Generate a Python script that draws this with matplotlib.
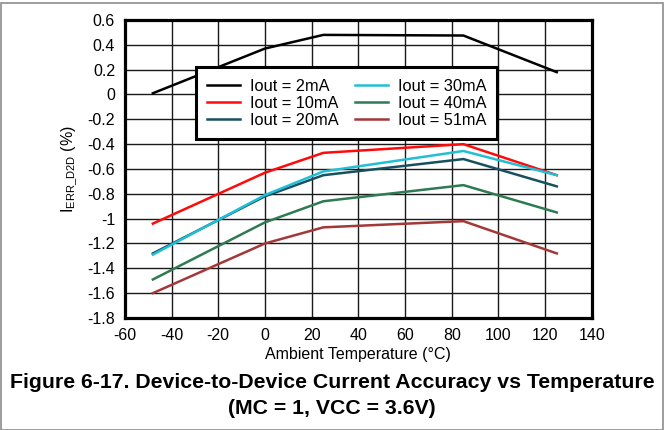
from matplotlib import pyplot as plt
import matplotlib.patches as mpatches

plt.rcParams['font.family'] = ['Liberation Sans', 'DejaVu Sans']
plt.rcParams['axes.unicode_minus'] = False

temps = [-48, 0, 25, 85, 125]
labels = ['Iout = 2mA', 'Iout = 10mA', 'Iout = 20mA',
          'Iout = 30mA', 'Iout = 40mA', 'Iout = 51mA']
err_2ma = [0.01, 0.37, 0.48, 0.475, 0.18]
err_10ma = [-1.04, -0.63, -0.47, -0.40, -0.65]
err_20ma = [-1.28, -0.82, -0.65, -0.52, -0.74]
err_30ma = [-1.29, -0.81, -0.62, -0.455, -0.65]
err_40ma = [-1.49, -1.03, -0.86, -0.73, -0.95]
err_51ma = [-1.60, -1.20, -1.07, -1.02, -1.28]
colors = ['#000000', '#ff0a0a', '#17505f', '#21bfd5', '#2e7a52', '#a33838']

fig = plt.figure(figsize=(6.64, 4.30), dpi=100)
# thin gray frame round the whole figure
fig.patches.append(mpatches.Rectangle((0.002, 0.0), 0.996, 0.993, transform=fig.transFigure,
                                      fill=False, edgecolor='#8c8c8c', linewidth=1.2))
ax = fig.add_axes([0.188, 0.2605, 0.7033, 0.693])

series = [err_2ma, err_10ma, err_20ma, err_30ma, err_40ma, err_51ma]
for vals, lab, c in zip(series, labels, colors):
    ax.plot(temps, vals, color=c, linewidth=1.8, label=lab)

ax.set_xlim(-60, 140)
ax.set_ylim(-1.8, 0.6)
ax.set_xticks(range(-60, 141, 20))
yt = [round(-1.8 + 0.2 * i, 1) for i in range(13)]
ax.set_yticks(yt)
ax.set_yticklabels(['0' if v == 0 else ('-1' if v == -1 else f'{v:g}') for v in yt])
ax.grid(True, color='#1a1a1a', linewidth=1.0)
ax.set_axisbelow(True)
ax.tick_params(length=0, labelsize=11.5, pad=7)
for s in ax.spines.values():
    s.set_linewidth(2.3)

ax.set_xlabel('Ambient Temperature (°C)', fontsize=11.5, labelpad=3)
ax.set_ylabel(r'I$_{\mathregular{ERR\_D2D}}$ (%)', fontsize=11.5, labelpad=6)

leg = ax.legend(ncol=2, loc='upper left', bbox_to_anchor=(0.152, 0.842),
                fontsize=11.8, frameon=True, fancybox=False, framealpha=1,
                edgecolor='black', handlelength=2.0, handletextpad=0.6,
                columnspacing=1.0, borderpad=0.7, labelspacing=0.13,
                borderaxespad=0)
leg.get_frame().set_linewidth(2.2)

fig.text(0.5, 0.11, 'Figure 6-17. Device-to-Device Current Accuracy vs Temperature',
         ha='center', va='center', fontsize=15.3, fontweight='bold')
fig.text(0.5, 0.05, '(MC = 1, VCC = 3.6V)',
         ha='center', va='center', fontsize=15.3, fontweight='bold')

plt.savefig('out.png', dpi=100)
